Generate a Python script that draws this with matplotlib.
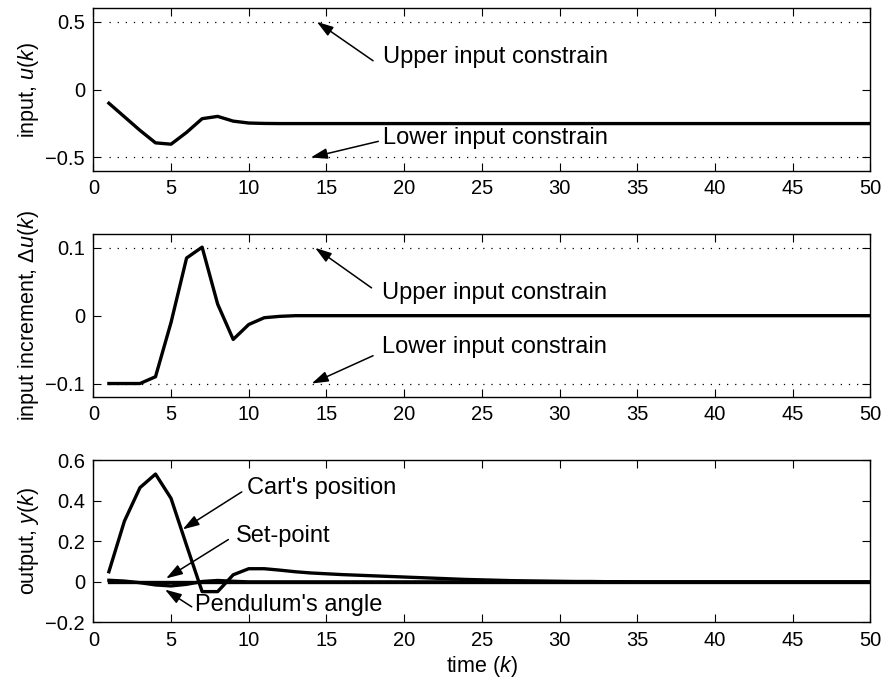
import numpy as np
import matplotlib.pyplot as plt
from matplotlib.ticker import FuncFormatter

plt.rcParams['font.family'] = ['Liberation Sans', 'DejaVu Sans']
plt.rcParams['mathtext.fontset'] = 'custom'
plt.rcParams['mathtext.it'] = 'Liberation Sans:italic'
plt.rcParams['mathtext.rm'] = 'Liberation Sans'

k = np.arange(1, 51)

u_in = [-0.10, -0.20, -0.30, -0.392, -0.402, -0.315, -0.214, -0.197, -0.232, -0.246,
        -0.249] + [-0.25] * 39
du_in = [-0.10, -0.10, -0.10, -0.09, -0.01, 0.085, 0.101, 0.017, -0.035, -0.013,
         -0.003, -0.001] + [0.0] * 38
cart_pos = [0.05, 0.30, 0.465, 0.532, 0.412, 0.18, -0.048, -0.048, 0.035, 0.065,
            0.065, 0.058, 0.050, 0.044, 0.040, 0.036, 0.033, 0.030, 0.027, 0.024,
            0.021, 0.018, 0.015, 0.012, 0.010, 0.008, 0.006, 0.005, 0.004, 0.003,
            0.002, 0.002, 0.001, 0.001] + [0.0] * 16
pend_angle = [0.008, 0.004, -0.004, -0.015, -0.020, -0.012, 0.002, 0.007, 0.003,
              0.0] + [0.0] * 40
set_point = [0.0] * 50

u_limits = [-0.5, 0.5]
du_limits = [-0.1, 0.1]

LW = 2.4
TICK_FS = 14.5
LABEL_FS = 15.5
NOTE_FS = 17


def fmt(v, pos):
    return ('%g' % v).replace('-', '\u2212')


def style(ax, yticks, ylim):
    ax.set_xlim(0, 50)
    ax.set_xticks(np.arange(0, 51, 5))
    ax.set_ylim(*ylim)
    ax.set_yticks(yticks)
    ax.yaxis.set_major_formatter(FuncFormatter(fmt))
    ax.tick_params(direction='in', top=True, right=True, length=6, width=0.8,
                   labelsize=TICK_FS, pad=6)
    for s in ax.spines.values():
        s.set_linewidth(1.0)


def note(ax, text, tip, tail, txt):
    ax.annotate('', xy=tip, xytext=tail,
                arrowprops=dict(arrowstyle='-|>,head_length=1.0,head_width=0.32',
                                color='k', lw=1.1, shrinkA=0, shrinkB=0))
    ax.text(txt[0], txt[1], text, fontsize=NOTE_FS, va='center', ha='left')


fig = plt.figure(figsize=(8.89, 6.87), dpi=100)
ax1 = fig.add_axes([0.105, 0.751, 0.874, 0.237])
ax2 = fig.add_axes([0.105, 0.422, 0.874, 0.237])
ax3 = fig.add_axes([0.105, 0.094, 0.874, 0.236])

# input u(k) with its bounds
for lim in u_limits:
    ax1.plot(k, [lim] * len(k), color='k', lw=0.9, dashes=(1, 5.5))
ax1.plot(k, u_in, color='k', lw=LW)
style(ax1, [-0.5, 0, 0.5], (-0.6, 0.6))
ax1.set_ylabel('input, $\\it{u}$($\\it{k}$)', fontsize=LABEL_FS, labelpad=3)
note(ax1, 'Upper input constrain', (14.38, 0.5), (18.0, 0.213), (18.66, 0.24))
note(ax1, 'Lower input constrain', (13.99, -0.5), (18.34, -0.381), (18.66, -0.36))

# input increment
for lim in du_limits:
    ax2.plot(k, [lim] * len(k), color='k', lw=0.9, dashes=(1, 5.5))
ax2.plot(k, du_in, color='k', lw=LW)
style(ax2, [-0.1, 0, 0.1], (-0.12, 0.12))
ax2.set_ylabel('input increment, $\\Delta$$\\it{u}$($\\it{k}$)', fontsize=LABEL_FS,
               labelpad=3)
note(ax2, 'Upper input constrain', (14.27, 0.1), (17.9, 0.041), (18.56, 0.033))
note(ax2, 'Lower input constrain', (14.05, -0.1), (18.0, -0.059), (18.56, -0.046))

# outputs
ax3.plot(k, set_point, color='k', lw=LW)
ax3.plot(k, pend_angle, color='k', lw=LW)
ax3.plot(k, cart_pos, color='k', lw=LW)
style(ax3, [-0.2, 0, 0.2, 0.4, 0.6], (-0.2, 0.6))
ax3.set_ylabel('output, $\\it{y}$($\\it{k}$)', fontsize=LABEL_FS, labelpad=3)
ax3.set_xlabel('time ($\\it{k}$)', fontsize=LABEL_FS, labelpad=3)
note(ax3, "Cart's position", (5.75, 0.259), (9.55, 0.444), (9.87, 0.461))
note(ax3, 'Set-point', (4.68, 0.017), (8.69, 0.209), (9.18, 0.226))
note(ax3, "Pendulum's angle", (4.61, -0.038), (6.33, -0.123), (6.54, -0.115))

fig.savefig('out.png', dpi=100)
